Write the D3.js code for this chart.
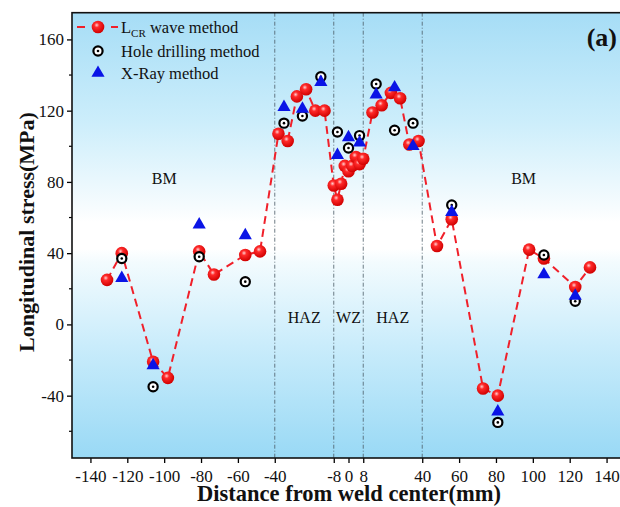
<!DOCTYPE html>
<html>
<head>
<meta charset="utf-8">
<script src="https://cdn.jsdelivr.net/npm/d3@7"></script>
<style>
  html, body { margin: 0; padding: 0; background: #fff; }
  svg { display: block; font-family: "Liberation Serif", "Times New Roman", serif; }
</style>
</head>
<body>
<div id="chart"></div>
<script>
const width = 620;
const height = 507;

// LCR wave method
const lcrX = [-131, -123, -106, -98, -81, -73, -56, -48, -38, -33, -28, -23, -18, -13,
  -8, -6, -4, -2, 0, 2, 4, 6, 8, 13, 18, 23, 28, 33, 38, 48, 56, 73, 81, 98, 106, 123, 131];
const lcrY = [25, 40, -21, -30, 41, 28, 39, 41, 107, 103, 128, 132, 120, 120,
  78, 70, 79, 89, 86, 89, 94, 90, 93, 119, 123, 130, 127, 101, 103, 44, 59, -36, -40, 42, 37, 21, 32];

// hole drilling + X-ray share positions
const refX = [-123, -106, -81, -56, -35, -25, -15, -6, 0, 6, 15, 25, 35, 56, 81, 106, 123];
const holeY = [37, -35, 38, 24, 113, 117, 139, 108, 99, 106, 135, 109, 113, 67, -55, 39, 13];
const xrayY = [26, -23, 56, 50, 122, 121, 136, 95, 105, 102, 129, 133, 100, 63, -49, 28, 16];

const xTicks = [-140, -120, -100, -80, -60, -40, -8, 0, 8, 40, 60, 80, 100, 120, 140];
const yTicks = [-40, 0, 40, 80, 120, 160];
const yMinor = [-60, -20, 20, 60, 100, 140];
const zoneLines = [-40, -8, 8, 40];
const zoneLabels = [
  { text: "BM", x: -100, y: 81 },
  { text: "BM", x: 95, y: 81 },
  { text: "HAZ", x: -24, y: 3 },
  { text: "WZ", x: 0, y: 3 },
  { text: "HAZ", x: 24, y: 3 }
];

const x = d3.scaleLinear().domain([-150, 150]).range([72, 625]);
const y = d3.scaleLinear().domain([-75, 175]).range([458, 12.7]);

const svg = d3.select("#chart").append("svg")
  .attr("width", width)
  .attr("height", height);

const defs = svg.append("defs");

// background gradient blue -> white -> blue
const bg = defs.append("linearGradient")
  .attr("id", "bg").attr("x1", 0).attr("y1", 0).attr("x2", 0).attr("y2", 1);
[[0, "#a6ddf6"], [0.25, "#cdeefb"], [0.44, "#f7fcfe"], [0.47, "#ffffff"],
 [0.53, "#ffffff"], [0.56, "#f3fbfe"], [0.75, "#c9ecfb"], [1, "#99d9f5"]]
  .forEach(s => bg.append("stop").attr("offset", s[0]).attr("stop-color", s[1]));

// shaded red ball
const ball = defs.append("radialGradient")
  .attr("id", "ball").attr("cx", "40%").attr("cy", "35%").attr("r", "65%");
ball.append("stop").attr("offset", 0).attr("stop-color", "#ffd0d0");
ball.append("stop").attr("offset", 0.3).attr("stop-color", "#ff2a2a");
ball.append("stop").attr("offset", 1).attr("stop-color", "#d00000");

defs.append("clipPath").attr("id", "clip")
  .append("rect")
  .attr("x", x.range()[0]).attr("y", y.range()[1])
  .attr("width", x.range()[1] - x.range()[0])
  .attr("height", y.range()[0] - y.range()[1]);

svg.append("rect")
  .attr("x", x.range()[0]).attr("y", y.range()[1])
  .attr("width", x.range()[1] - x.range()[0])
  .attr("height", y.range()[0] - y.range()[1])
  .attr("fill", "url(#bg)");

// zone divider lines
svg.selectAll(".zone")
  .data(zoneLines)
  .enter().append("line")
  .attr("x1", d => x(d)).attr("x2", d => x(d))
  .attr("y1", y.range()[1]).attr("y2", y.range()[0])
  .attr("stroke", "#4a5a66")
  .attr("stroke-width", 0.8)
  .attr("stroke-dasharray", "4,2,1,2");

svg.selectAll(".zlabel")
  .data(zoneLabels)
  .enter().append("text")
  .attr("x", d => x(d.x)).attr("y", d => y(d.y))
  .attr("text-anchor", "middle")
  .attr("dominant-baseline", "middle")
  .attr("font-size", 16)
  .attr("fill", "#111")
  .text(d => d.text);

// axes (plain hyphen for negatives, like the original)
const fmt = d => String(d);
const xAxis = d3.axisBottom(x).tickValues(xTicks).tickFormat(fmt).tickSize(5).tickSizeOuter(0);
const gx = svg.append("g").attr("transform", `translate(0,${y.range()[0]})`).call(xAxis);
gx.select(".domain").remove();
gx.selectAll("text").attr("font-size", 17).attr("font-family", "Liberation Serif").attr("dy", "0.95em").attr("fill", "#111");
gx.selectAll("line").attr("stroke-width", 1.3);

const yAxis = d3.axisLeft(y).tickValues(yTicks).tickFormat(fmt).tickSize(5).tickSizeOuter(0);
const gy = svg.append("g").attr("transform", `translate(${x.range()[0]},0)`).call(yAxis);
gy.select(".domain").remove();
gy.selectAll("text").attr("font-size", 17).attr("font-family", "Liberation Serif").attr("fill", "#111");
gy.selectAll("line").attr("stroke-width", 1.3);

svg.selectAll(".yminor")
  .data(yMinor)
  .enter().append("line")
  .attr("x1", x.range()[0] - 3).attr("x2", x.range()[0])
  .attr("y1", d => y(d)).attr("y2", d => y(d))
  .attr("stroke", "#000").attr("stroke-width", 1.2);

// frame
svg.append("rect")
  .attr("x", x.range()[0]).attr("y", y.range()[1])
  .attr("width", x.range()[1] - x.range()[0])
  .attr("height", y.range()[0] - y.range()[1])
  .attr("fill", "none")
  .attr("stroke", "#111")
  .attr("stroke-width", 1.6);

const plot = svg.append("g").attr("clip-path", "url(#clip)");

// LCR dashed line
const lcr = lcrX.map((d, i) => ({ x: d, y: lcrY[i] }));
plot.append("path")
  .datum(lcr)
  .attr("d", d3.line().x(d => x(d.x)).y(d => y(d.y)))
  .attr("fill", "none")
  .attr("stroke", "#f0202a")
  .attr("stroke-width", 2)
  .attr("stroke-dasharray", "8,5");

function drawBall(g, cx, cy) {
  g.append("circle")
    .attr("cx", cx).attr("cy", cy).attr("r", 6.3)
    .attr("fill", "url(#ball)");
}
function drawHole(g, cx, cy) {
  g.append("circle")
    .attr("cx", cx).attr("cy", cy).attr("r", 4.6)
    .attr("fill", "#fff").attr("stroke", "#000").attr("stroke-width", 2.2);
  g.append("circle")
    .attr("cx", cx).attr("cy", cy).attr("r", 1.3)
    .attr("fill", "#000");
}
const tri = d3.symbol().type(d3.symbolTriangle).size(75);
function drawTri(g, cx, cy) {
  g.append("path")
    .attr("d", tri)
    .attr("transform", `translate(${cx},${cy})`)
    .attr("fill", "#0a14e6");
}

lcr.forEach(d => drawBall(plot, x(d.x), y(d.y)));
refX.forEach((d, i) => drawHole(plot, x(d), y(holeY[i])));
refX.forEach((d, i) => drawTri(plot, x(d), y(xrayY[i])));

// legend
const lg = svg.append("g");
[[77, 85], [111, 118]].forEach(s => {
  lg.append("line")
    .attr("x1", s[0]).attr("x2", s[1]).attr("y1", 27).attr("y2", 27)
    .attr("stroke", "#f0202a").attr("stroke-width", 2);
});
drawBall(lg, 98, 27);
drawHole(lg, 98, 51);
drawTri(lg, 98, 73);

const lt = lg.append("text").attr("x", 121).attr("y", 33).attr("font-size", 16.5).attr("fill", "#111");
lt.append("tspan").text("L");
lt.append("tspan").attr("font-size", 11).attr("dy", 4).text("CR");
lt.append("tspan").attr("dy", -4).text(" wave method");
lg.append("text").attr("x", 121).attr("y", 57).attr("font-size", 16.5).attr("fill", "#111").text("Hole drilling method");
lg.append("text").attr("x", 121).attr("y", 79).attr("font-size", 16.5).attr("fill", "#111").text("X-Ray method");

// panel tag
svg.append("text")
  .attr("x", 617).attr("y", 46)
  .attr("text-anchor", "end")
  .attr("font-size", 26).attr("font-weight", "bold")
  .attr("fill", "#111")
  .text("(a)");

// axis titles
svg.append("text")
  .attr("x", 349).attr("y", 501)
  .attr("text-anchor", "middle")
  .attr("font-size", 22.5).attr("font-weight", "bold")
  .attr("fill", "#111")
  .text("Distance from weld center(mm)");

svg.append("text")
  .attr("transform", "translate(34,232) rotate(-90)")
  .attr("text-anchor", "middle")
  .attr("font-size", 22).attr("font-weight", "bold")
  .attr("fill", "#111")
  .text("Longitudinal stress(MPa)");
</script>
</body>
</html>
